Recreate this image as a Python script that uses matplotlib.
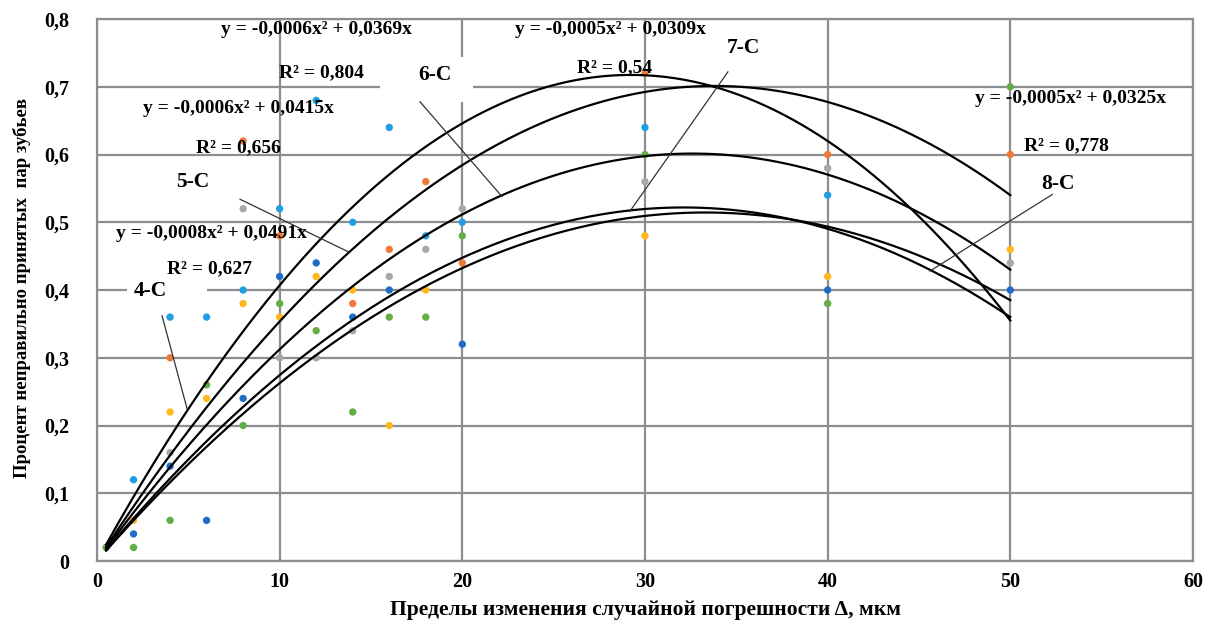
import numpy as np
import matplotlib
matplotlib.use("Agg")
import matplotlib.pyplot as plt
from matplotlib.patches import Rectangle

plt.rcParams['font.family'] = ['Liberation Serif', 'DejaVu Serif']

# ---- data ----
lb_x = [2, 4, 6, 8, 10, 12, 14, 16, 18, 20, 30, 40]
lb_y = [0.12, 0.36, 0.36, 0.40, 0.52, 0.68, 0.50, 0.64, 0.48, 0.50, 0.64, 0.54]
or_x = [4, 8, 10, 14, 16, 18, 20, 30, 40, 50]
or_y = [0.30, 0.62, 0.48, 0.38, 0.46, 0.56, 0.44, 0.72, 0.60, 0.60]
gr_x = [4, 8, 10, 12, 14, 16, 18, 20, 30, 40, 50]
gr_y = [0.16, 0.52, 0.30, 0.30, 0.34, 0.42, 0.46, 0.52, 0.56, 0.58, 0.44]
ye_x = [2, 4, 6, 8, 10, 12, 14, 16, 18, 30, 40, 50]
ye_y = [0.06, 0.22, 0.24, 0.38, 0.36, 0.42, 0.40, 0.20, 0.40, 0.48, 0.42, 0.46]
db_x = [2, 4, 6, 8, 10, 12, 14, 16, 20, 40, 50]
db_y = [0.04, 0.14, 0.06, 0.24, 0.42, 0.44, 0.36, 0.40, 0.32, 0.40, 0.40]
gn_x = [0.5, 2, 4, 6, 8, 10, 12, 14, 16, 18, 20, 30, 40, 50]
gn_y = [0.02, 0.02, 0.06, 0.26, 0.20, 0.38, 0.34, 0.22, 0.36, 0.36, 0.48, 0.60, 0.38, 0.70]

series = [
    (lb_x, lb_y, '#1F9FE2'),
    (or_x, or_y, '#F07A35'),
    (gr_x, gr_y, '#A5A8AB'),
    (ye_x, ye_y, '#FFB81C'),
    (db_x, db_y, '#1E6CC8'),
    (gn_x, gn_y, '#62AE45'),
]

# trendlines y = a*x^2 + b*x
trend_names = ['4-C', '5-C', '6-C', '7-C', '8-C']
trend_a = [-0.00084, -0.000614, -0.000566, -0.000464, -0.000506]
trend_b = [0.0491, 0.0415, 0.0369, 0.0309, 0.0325]
trend_eq = ['y = -0,0008x² + 0,0491x', 'y = -0,0006x² + 0,0415x',
            'y = -0,0006x² + 0,0369x', 'y = -0,0005x² + 0,0309x',
            'y = -0,0005x² + 0,0325x']
trend_r2 = ['R² = 0,627', 'R² = 0,656', 'R² = 0,804', 'R² = 0,54', 'R² = 0,778']
trend_xmin, trend_xmax = 0.5, 50

x_ticks = [0, 10, 20, 30, 40, 50, 60]
y_ticks = [0, 0.1, 0.2, 0.3, 0.4, 0.5, 0.6, 0.7, 0.8]
y_ticklabels = ['0', '0,1', '0,2', '0,3', '0,4', '0,5', '0,6', '0,7', '0,8']

# ---- figure ----
fig = plt.figure(figsize=(12.11, 6.26), dpi=100)
ax = fig.add_axes([0.0801, 0.1038, 0.9050, 0.8658])
ax.set_xlim(0, 60)
ax.set_ylim(0, 0.8)

gcol = '#8A8E93'
ax.set_xticks(x_ticks)
ax.set_yticks(y_ticks)
ax.set_yticklabels(y_ticklabels)
ax.grid(True, color=gcol, linewidth=1.6, zorder=0)
ax.set_axisbelow(True)
for s in ax.spines.values():
    s.set_color(gcol)
    s.set_linewidth(1.6)
ax.tick_params(axis='x', length=0, pad=8, labelsize=14.5)
ax.tick_params(axis='y', length=0, pad=20, labelsize=14.5)
for lab in ax.get_xticklabels() + ax.get_yticklabels():
    lab.set_fontweight('bold')

# white label boxes that interrupt gridlines
ax.add_patch(Rectangle((1.64, 0.375), 4.38, 0.05, facecolor='white',
                       edgecolor='none', zorder=1))
ax.add_patch(Rectangle((15.49, 0.678), 5.09, 0.066, facecolor='white',
                       edgecolor='none', zorder=1))

for xs, ys, c in series:
    ax.scatter(xs, ys, s=28, color=c, edgecolors='none', zorder=3)

xx = np.linspace(trend_xmin, trend_xmax, 300)
for a, b in zip(trend_a, trend_b):
    ax.plot(xx, a * xx**2 + b * xx, color='black', linewidth=1.6, zorder=4)

# labels (positions in data coords)
eq_pos = [(6.29, 0.484), (7.72, 0.668), (12.04, 0.784), (28.1, 0.785), (53.3, 0.682)]
r2_pos = [(6.18, 0.431), (7.77, 0.610), (12.3, 0.721), (28.35, 0.728), (53.1, 0.613)]
nm_pos = [(2.90, 0.399), (5.25, 0.560), (18.5, 0.718), (35.4, 0.757), (52.6, 0.557)]
leaders = [((3.56, 0.362), (4.93, 0.225)),
           ((7.83, 0.534), (13.79, 0.456)),
           ((17.68, 0.678), (22.17, 0.538)),
           ((34.54, 0.722), (29.17, 0.516)),
           ((52.3, 0.541), (45.6, 0.428))]

for i in range(5):
    ax.text(*eq_pos[i], trend_eq[i], ha='center', va='center', fontsize=14,
            fontweight='bold', zorder=5)
    ax.text(*r2_pos[i], trend_r2[i], ha='center', va='center', fontsize=14,
            fontweight='bold', zorder=5)
    ax.text(*nm_pos[i], trend_names[i], ha='center', va='center', fontsize=15.5,
            fontweight='bold', zorder=5)
    (x0, y0), (x1, y1) = leaders[i]
    ax.plot([x0, x1], [y0, y1], color='#333333', linewidth=0.9, zorder=4)

fig.text(0.533, 0.026, 'Пределы изменения случайной погрешности Δ, мкм', ha='center',
         va='center', fontsize=15.5, fontweight='bold')
fig.text(0.018, 0.54, 'Процент неправильно принятых  пар зубьев', ha='center',
         va='center', rotation=90, fontsize=13.5, fontweight='bold')

fig.savefig('out.png', dpi=100)
